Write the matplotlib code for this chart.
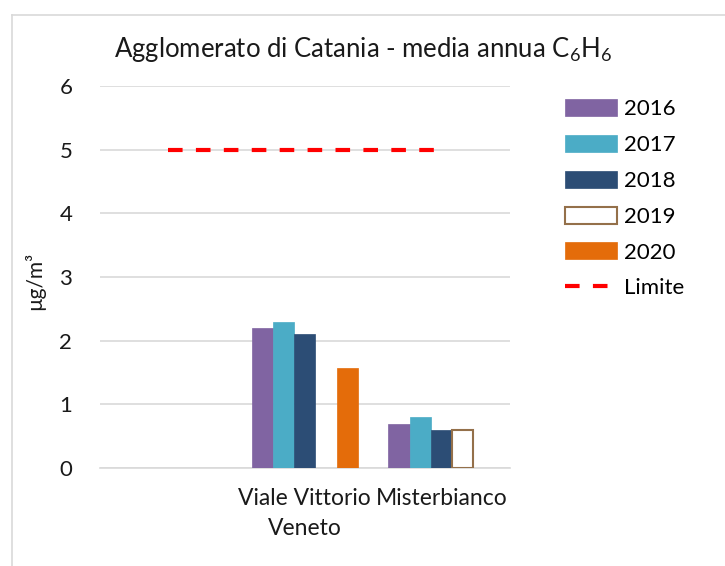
import matplotlib
matplotlib.use("Agg")
import matplotlib.pyplot as plt
import numpy as np
from matplotlib.lines import Line2D

plt.rcParams['font.family'] = ['Lato', 'DejaVu Sans']
plt.rcParams['mathtext.fontset'] = 'custom'
plt.rcParams['mathtext.rm'] = 'Lato'
plt.rcParams['mathtext.it'] = 'Lato'

# data
stations = ["", "Viale Vittorio\nVeneto", "Misterbianco"]
years = ["2016", "2017", "2018", "2019", "2020"]
v2016 = [np.nan, 2.2, 0.7]
v2017 = [np.nan, 2.3, 0.8]
v2018 = [np.nan, 2.1, 0.6]
v2019 = [np.nan, np.nan, 0.6]
v2020 = [np.nan, 1.57, np.nan]
limite = [5, 5, 5]

series = [v2016, v2017, v2018, v2019, v2020]
faces = ["#8064A2", "#4BACC6", "#2C4D75", "white", "#E46C0A"]
edges = ["#8064A2", "#4BACC6", "#2C4D75", "#94704A", "#E46C0A"]
txt = "#1A1A1A"

fig = plt.figure(figsize=(7.25, 5.66), dpi=100)
ax = fig.add_axes([0.138, 0.173, 0.565, 0.675])

x = np.arange(len(stations))
w = 0.1556
handles = []
for i, vals in enumerate(series):
    b = ax.bar(x + (i - 2) * w, vals, w, color=faces[i], edgecolor=edges[i],
               linewidth=1.5 if i == 3 else 0.5, label=years[i], zorder=3)
    handles.append(b)

ln, = ax.plot(x, limite, color="#FF0000", linestyle=(0, (3.5, 3.2)), linewidth=3,
              label="Limite", zorder=4)
handles.append(ln)

ax.set_xlim(-0.5, 2.5)
ax.set_ylim(0, 6)
ax.set_yticks(range(0, 7))
ax.set_xticks(x)
ax.set_xticklabels(stations, fontsize=16.5, color=txt, linespacing=1.55)
ax.tick_params(axis="y", labelsize=16, labelcolor=txt, length=0, pad=20)
ax.tick_params(axis="x", length=0, pad=14)
ax.grid(axis="y", color="#D9D9D9", linewidth=1.2, zorder=0)
for s in ["top", "right", "left"]:
    ax.spines[s].set_visible(False)
ax.spines["bottom"].set_color("#D9D9D9")
ax.spines["bottom"].set_linewidth(1.2)

ax.set_ylabel("µg/m³", fontsize=15, color=txt)
ax.yaxis.set_label_coords(-0.135, 0.49)

fig.text(0.5, 0.912, r"Agglomerato di Catania - media annua C$_\mathrm{6}$H$_\mathrm{6}$",
         fontsize=18.5, ha="center", va="center", color=txt)

fig.legend(handles=handles, loc="upper left", bbox_to_anchor=(0.752, 0.86),
           frameon=False, fontsize=16, handlelength=2.35, handleheight=0.8,
           labelspacing=0.7, handletextpad=0.3)

# chart frame (top and left edges)
fig.add_artist(Line2D([0.017, 1.0], [0.973, 0.973], color="#D9D9D9", linewidth=1.2))
fig.add_artist(Line2D([0.017, 0.017], [0.0, 0.973], color="#D9D9D9", linewidth=1.2))

fig.savefig("out.png", dpi=100)
